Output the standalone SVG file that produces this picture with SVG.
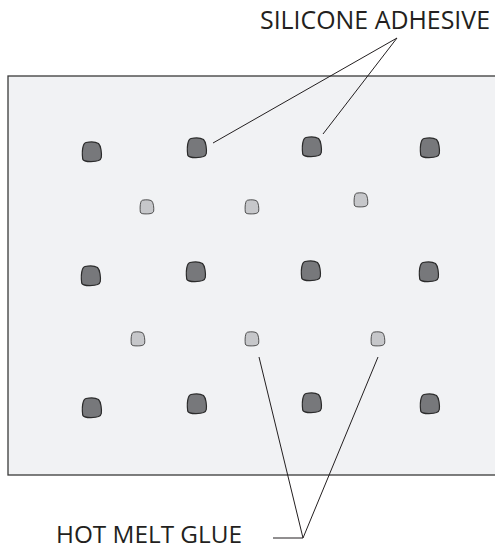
<svg xmlns="http://www.w3.org/2000/svg" xmlns:xlink="http://www.w3.org/1999/xlink" width="495" height="550" viewBox="0 0 495 550">
<style>
.label{font-family:"Open Sans","Liberation Sans",sans-serif;font-size:25px;fill:#231f20}
.lead{stroke:#231f20;stroke-width:1;fill:none}
.dark{fill:#77787b;stroke:#2b2b2b;stroke-width:1.2}
.light{fill:#c6c7ca;stroke:#2b2b2b;stroke-width:1.1}
</style>
<defs>
<path id="blob" d="M -6,-9.5 C -1,-10.5 4,-10 6.5,-8.5 C 9,-6 9.8,1 9.3,5.5 C 8.8,9 4,9.6 -1,9.6 C -5.5,9.6 -8.8,9.3 -9.3,7 C -9.8,3 -9.8,-3 -8.6,-6.5 C -8,-8.4 -7.3,-9.2 -6,-9.5 Z"/>
</defs>
<g id="plate">
<rect x="8" y="76" width="500" height="399" fill="#f1f2f4" stroke="#3a3a3a" stroke-width="1.3"/>
</g>
<g id="silicone-dots">
<use xlink:href="#blob" class="dark" transform="translate(92,152)"/>
<use xlink:href="#blob" class="dark" transform="translate(197,148)"/>
<use xlink:href="#blob" class="dark" transform="translate(312,147)"/>
<use xlink:href="#blob" class="dark" transform="translate(430,148)"/>
<use xlink:href="#blob" class="dark" transform="translate(91,276)"/>
<use xlink:href="#blob" class="dark" transform="translate(196,272)"/>
<use xlink:href="#blob" class="dark" transform="translate(311,271)"/>
<use xlink:href="#blob" class="dark" transform="translate(429,272)"/>
<use xlink:href="#blob" class="dark" transform="translate(92,408)"/>
<use xlink:href="#blob" class="dark" transform="translate(197,404)"/>
<use xlink:href="#blob" class="dark" transform="translate(312,403)"/>
<use xlink:href="#blob" class="dark" transform="translate(430,404)"/>
</g>
<g id="hotmelt-dots">
<use xlink:href="#blob" class="light" transform="translate(147,207) scale(0.72)"/>
<use xlink:href="#blob" class="light" transform="translate(252,207) scale(0.72)"/>
<use xlink:href="#blob" class="light" transform="translate(361,200) scale(0.72)"/>
<use xlink:href="#blob" class="light" transform="translate(138,339) scale(0.72)"/>
<use xlink:href="#blob" class="light" transform="translate(252,339) scale(0.72)"/>
<use xlink:href="#blob" class="light" transform="translate(378,339) scale(0.72)"/>
</g>
<g id="connectors">
<polyline class="lead" points="213,143 397,38 323,134"/>
<polyline class="lead" points="259,357 303,538 378,357"/>
<line class="lead" x1="273" y1="538" x2="303" y2="538"/>
</g>
<g id="label-silicone">
<text class="label" x="260" y="29" textLength="230" lengthAdjust="spacingAndGlyphs">SILICONE ADHESIVE</text>
</g>
<g id="label-hotmelt">
<text class="label" x="56" y="543" font-size="24" style="font-size:24px" textLength="186" lengthAdjust="spacingAndGlyphs">HOT MELT GLUE</text>
</g>
</svg>
